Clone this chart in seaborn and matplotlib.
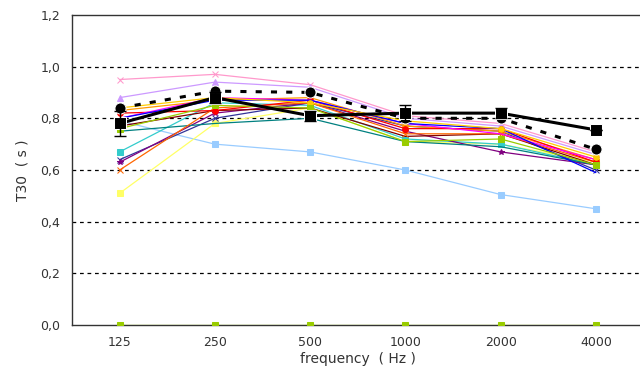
import matplotlib
matplotlib.use("Agg")
import matplotlib.pyplot as plt
import seaborn as sns
import numpy as np
import pandas as pd
from matplotlib.ticker import FixedLocator, FuncFormatter

freqs = ["125", "250", "500", "1000", "2000", "4000"]

# thin coloured series (receiver positions)
pink      = [0.95, 0.97, 0.93, 0.81, 0.78, 0.67]
lavender  = [0.88, 0.94, 0.92, 0.80, 0.77, 0.66]
lightblue = [0.79, 0.70, 0.67, 0.60, 0.505, 0.45]
lightyel  = [0.51, 0.78, 0.84, 0.71, 0.70, 0.63]
cyan      = [0.67, 0.86, 0.85, 0.72, 0.70, 0.62]
navy      = [0.64, 0.80, 0.86, 0.77, 0.75, 0.60]
purple    = [0.63, 0.82, 0.86, 0.75, 0.67, 0.62]
orange    = [0.83, 0.87, 0.88, 0.77, 0.75, 0.64]
teal      = [0.75, 0.78, 0.80, 0.71, 0.69, 0.62]
maroon    = [0.77, 0.83, 0.84, 0.73, 0.74, 0.62]
darkorng  = [0.60, 0.84, 0.86, 0.74, 0.74, 0.63]
red       = [0.82, 0.83, 0.87, 0.76, 0.76, 0.63]
magenta   = [0.80, 0.88, 0.87, 0.78, 0.74, 0.64]
blue      = [0.80, 0.87, 0.87, 0.78, 0.76, 0.59]
gold      = [0.84, 0.88, 0.86, 0.79, 0.76, 0.65]
green     = [0.76, 0.85, 0.84, 0.71, 0.72, 0.62]
zero      = [0.0, 0.0, 0.0, 0.0, 0.0, 0.0]

# summary series
measured_mean = [0.78, 0.88, 0.81, 0.82, 0.82, 0.755]
measured_err  = [0.05, 0.02, 0.02, 0.03, 0.02, 0.0]
simulated     = [0.84, 0.905, 0.90, 0.80, 0.80, 0.68]

ytick_vals = [0.0, 0.2, 0.4, 0.6, 0.8, 1.0, 1.2]

thin = [
    (pink, "#ff99cc", "x"),
    (lavender, "#cc99ff", "^"),
    (lightblue, "#99ccff", "s"),
    (lightyel, "#ffff66", "s"),
    (cyan, "#33cccc", "s"),
    (navy, "#333399", "x"),
    (purple, "#800080", "*"),
    (orange, "#ff9900", "o"),
    (teal, "#008080", None),
    (maroon, "#800000", None),
    (darkorng, "#ff6600", "x"),
    (red, "#ff0000", "o"),
    (magenta, "#ff00ff", None),
    (blue, "#0000ff", None),
    (gold, "#ffcc00", "o"),
    (green, "#99cc00", "s"),
    (zero, "#99cc00", "s"),
]

sns.set_style("white")
plt.rcParams['font.family'] = ['DejaVu Sans']

fig = plt.figure(figsize=(6.4, 3.72), dpi=100)
ax = fig.add_axes([0.1125, 0.126, 0.893, 0.834])

xpos = np.arange(len(freqs))

for vals, col, mk in thin:
    sns.lineplot(x=xpos, y=vals, ax=ax, color=col, lw=0.9,
                 marker=mk, markersize=4 if mk else 0,
                 markeredgecolor=col, markerfacecolor=col, legend=False, zorder=3)

sns.lineplot(x=xpos, y=simulated, ax=ax, color="black", lw=2.2,
             marker="o", markersize=8, legend=False, zorder=5)
ax.lines[-1].set_linestyle((0, (2, 3)))

sns.lineplot(x=xpos, y=measured_mean, ax=ax, color="black", lw=2.2,
             marker="s", markersize=8, legend=False, zorder=6)
ax.errorbar(xpos, measured_mean, yerr=measured_err, fmt="none",
            ecolor="black", elinewidth=1, capsize=4, zorder=6)

ax.set_xlim(-0.5, 5.5)
ax.set_ylim(0, 1.2)
ax.set_yticks(ytick_vals)
ax.yaxis.set_major_formatter(FuncFormatter(lambda v, p: f"{v:.1f}".replace(".", ",")))
ax.set_xticks(xpos)
ax.set_xticklabels(freqs)
ax.xaxis.set_minor_locator(FixedLocator(np.arange(0.5, len(freqs) - 0.5, 1.0)))
ax.tick_params(axis="x", which="major", length=0, labelsize=9, colors="#333333", pad=8)
ax.tick_params(axis="x", which="minor", length=4, width=0.8, color="#333333", direction="out")
ax.tick_params(axis="y", which="major", length=5, width=0.8, color="#333333",
               labelsize=9, labelcolor="#333333", direction="out")

for v in ytick_vals[1:-1]:
    ax.axhline(v, color="black", lw=0.9, ls=(0, (3, 3)), zorder=1)

for s in ["left", "bottom", "top"]:
    ax.spines[s].set_color("#333333")
    ax.spines[s].set_linewidth(1.0)
ax.spines["right"].set_visible(False)

ax.set_xlabel("frequency  ( Hz )", fontsize=10, color="#333333", labelpad=2)
ax.set_ylabel("T30  ( s )", fontsize=10, color="#333333", labelpad=8)

fig.savefig("out.png", dpi=100)
